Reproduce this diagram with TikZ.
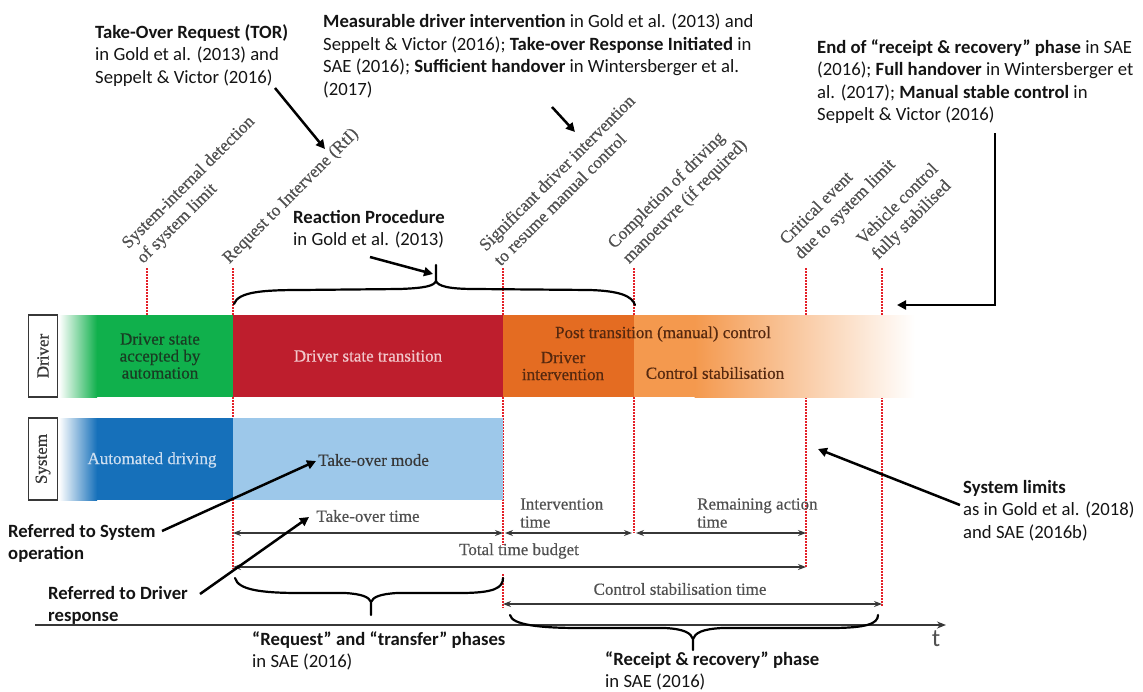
\documentclass[tikz,border=0pt]{standalone}
\usepackage{fontspec}
\setmainfont{Carlito}
\newfontfamily\serif[FakeBold=0.5]{Liberation Serif}
\usetikzlibrary{arrows.meta}
\definecolor{cgreen}{RGB}{16,176,76}
\definecolor{cred}{RGB}{190,30,45}
\definecolor{corange}{RGB}{228,108,34}
\definecolor{clorange}{RGB}{244,153,78}
\definecolor{cblue}{RGB}{22,112,186}
\definecolor{clblue}{RGB}{157,200,234}
\definecolor{cgrey}{RGB}{80,80,80}
\definecolor{cdot}{RGB}{228,32,40}
\definecolor{cbrown}{RGB}{85,40,15}
\definecolor{cdkgreen}{RGB}{25,60,35}
\definecolor{cpink}{RGB}{242,200,204}
\definecolor{cpale}{RGB}{205,222,240}
\definecolor{cdark}{RGB}{55,55,55}
\definecolor{cink}{RGB}{20,20,20}
\begin{document}
\begin{tikzpicture}[x=1pt,y=-1pt,
  ann/.style={font=\fontsize{18.7}{22.5}\selectfont, text=cink, align=left, inner sep=0pt, anchor=north west},
  lbl/.style={font=\serif\fontsize{17}{18}\selectfont, text=cgrey, inner sep=0pt},
  rotlbl/.style={font=\serif\fontsize{17.5}{21}\selectfont, text=cgrey, inner sep=0pt, rotate=45, anchor=south west, align=left},
  barlbl/.style={font=\serif\fontsize{17}{17}\selectfont, inner sep=0pt, align=center},
  tick/.style={draw=cdot, line width=1.6pt, dash pattern=on 1.5pt off 1.5pt},
  callout/.style={draw=black, line width=2.5pt, -{Triangle[length=9pt,width=9pt]}},
  dim/.style={draw=cdark, line width=1.1pt, {Stealth[length=8pt,width=6pt]}-{Stealth[length=8pt,width=6pt]}},
  axisline/.style={draw=cdark, line width=1.3pt, -{Stealth[length=9pt,width=7pt]}},
  brace/.style={draw=black, line width=2.2pt, line cap=round},
  rowbox/.style={draw=cdark, line width=1.2pt, fill=white, inner sep=0pt, rotate=90, minimum width=82pt, minimum height=29pt, font=\serif\fontsize{17}{17}\selectfont, text=cdark}
]
\useasboundingbox (0,0) rectangle (1143,691);

% dotted ticks
\foreach \n/\x/\yb in {a/147/315, b/233/569, d/634/533, e/806/567, f/882/606} {
  \coordinate (\n top) at (\x,268);
  \coordinate (\n bot) at (\x,\yb);
  \draw[tick] (\n top) -- (\n bot);
}
\coordinate (c top) at (503,268); \coordinate (c mid1) at (503,545);
\coordinate (c mid2) at (503,574); \coordinate (c bot) at (503,608);
\draw[tick] (c top) -- (c mid1);
\draw[tick] (c mid2) -- (c bot);

% bars: driver
\fill[left color=white, right color=cgreen] (59,315) rectangle (97,397);
\fill[cgreen] (96.5,315) rectangle (233,397);
\fill[cred] (233,315) rectangle (503,397);
\fill[corange] (503,315) rectangle (634,397);
\fill[clorange] (634,315) rectangle (695,397);
\fill[left color=clorange, right color=white] (694.5,315) rectangle (915,397);
% bars: system
\fill[left color=white, right color=cblue] (59,418) rectangle (97,500);
\fill[cblue] (96.5,418) rectangle (233,500);
\fill[clblue] (233,418) rectangle (503,500);

% row labels
\node[rowbox] (drvlab) at (43,356) {Driver};
\node[rowbox] (syslab) at (43,459) {System};

% bar texts
\node[barlbl, text=cdkgreen] (t1) at (160,356) {Driver state\\accepted by\\automation};
\node[barlbl, text=cpink] (t2) at (368,356) {Driver state transition};
\node[barlbl, text=cbrown] (t3) at (663,334) {Post transition (manual) control};
\node[barlbl, text=cbrown] (t4) at (563,366) {Driver\\intervention};
\node[barlbl, text=cbrown] (t5) at (715,373) {Control stabilisation};
\node[barlbl, text=cpale] (t6) at (152,460) {Automated driving};
\node[barlbl, text=cdark, anchor=west] (tomode) at (318,460) {Take-over mode};

% rotated event labels
\node[rotlbl] (lab1) at (146,267) {System-internal detection\\of system limit};
\node[rotlbl] (lab2) at (232,267) {Request to Intervene (RtI)};
\node[rotlbl] (lab3) at (501,267) {Significant driver intervention\\to resume manual control};
\node[rotlbl] (lab4) at (632,267) {Completion of driving\\manoeuvre (if required)};
\node[rotlbl] (lab5) at (804,263) {Critical event\\due to system limit};
\node[rotlbl] (lab6) at (881,263) {Vehicle control\\fully stabilised};

% dimension arrows
\coordinate (tot1) at (233,533); \coordinate (tot2) at (503,533);
\coordinate (int1) at (503,533); \coordinate (int2) at (634,533);
\coordinate (ram1) at (634,533); \coordinate (ram2) at (806,533);
\coordinate (ttb1) at (233,567); \coordinate (ttb2) at (806,567);
\coordinate (cst1) at (503,604); \coordinate (cst2) at (882,604);
\draw[dim] (tot1) -- (tot2);
\draw[dim] ([xshift=2pt]int1) -- ([xshift=-2pt]int2);
\draw[dim] ([xshift=2pt]ram1) -- (ram2);
\draw[dim] (ttb1) -- (ttb2);
\draw[dim] (cst1) -- (cst2);
\node[lbl] (ltot) at (368,516) {Take-over time};
\node[lbl, align=left, anchor=west] (lint) at (520,513) {Intervention\\time};
\node[lbl, align=left, anchor=west] (lram) at (697,513) {Remaining action\\time};
\node[lbl] (lttb) at (519,551) {Total time budget};
\node[lbl] (lcst) at (680,589) {Control stabilisation time};

% time axis
\coordinate (ax1) at (35,625); \coordinate (ax2) at (946,625);
\draw[axisline] (ax1) -- (ax2);
\node[font=\fontsize{25}{25}\selectfont, text=cgrey, inner sep=0pt] (tlab) at (936,639) {t};

% braces
\draw[brace] (234,304) .. controls (238,292) and (262,290) .. (300,290) -- (400,289) .. controls (425,288) and (434,286) .. (436,281)
  (436,281) .. controls (438,286) and (448,289) .. (475,289) -- (590,290) .. controls (620,291) and (632,296) .. (635,305)
  (436,281) -- (436,265);
\draw[brace] (235,578) .. controls (238,590) and (262,593) .. (300,593) -- (345,593) .. controls (362,594) and (369,597) .. (371,602)
  (371,602) .. controls (373,597) and (380,594) .. (397,593) -- (460,593) .. controls (494,593) and (503,588) .. (503,578)
  (371,602) -- (371,615);
\draw[brace] (510,615) .. controls (512,625) and (540,628) .. (580,628) -- (665,628) .. controls (684,629) and (691,633) .. (693,639)
  (693,639) .. controls (695,633) and (702,629) .. (722,628) -- (830,628) .. controls (866,628) and (878,624) .. (878,615)
  (693,639) -- (693,650);

% annotations
\node[ann] (tor) at (95,24) {\textbf{Take-Over Request (TOR)}\\in Gold et al. (2013) and\\Seppelt \& Victor (2016)};
\node[ann] (meas) at (323,14) {\textbf{Measurable driver intervention} in Gold et al. (2013) and\\Seppelt \& Victor (2016); \textbf{Take-over Response Initiated} in\\SAE (2016); \textbf{Sufficient handover} in Wintersberger et al.\\(2017)};
\node[ann] (endrr) at (817,39) {\textbf{End of “receipt \& recovery” phase} in SAE\\(2016); \textbf{Full handover} in Wintersberger et\\al. (2017); \textbf{Manual stable control} in\\Seppelt \& Victor (2016)};
\node[ann] (react) at (293,210) {\textbf{Reaction Procedure}\\in Gold et al. (2013)};
\node[ann] (refsys) at (8,524) {\textbf{Referred to System}\\\textbf{operation}};
\node[ann] (refdrv) at (48,586) {\textbf{Referred to Driver}\\\textbf{response}};
\node[ann] (syslim) at (963,480) {\textbf{System limits}\\as in Gold et al. (2018)\\and SAE (2016b)};
\node[ann] (reqtr) at (252,631) {\textbf{“Request” and “transfer” phases}\\in SAE (2016)};
\node[ann] (rr) at (605,651) {\textbf{“Receipt \& recovery” phase}\\in SAE (2016)};

% callout arrows
\coordinate (torS) at (275,88); \coordinate (torE) at (325,149);
\coordinate (measS) at (552,107); \coordinate (measE) at (575,132);
\coordinate (endS) at (995,133); \coordinate (endE) at (897,305);
\coordinate (reactS) at (370,257); \coordinate (reactE) at (433,274);
\coordinate (sysS) at (162,531); \coordinate (sysE) at (316,461);
\coordinate (drvS) at (200,594); \coordinate (drvE) at (309,517);
\coordinate (limS) at (960,505); \coordinate (limE) at (818,449);
\draw[callout] (torS) -- (torE);
\draw[callout] (measS) -- (measE);
\draw[callout] (endS) |- (endE);
\draw[callout] (reactS) -- (reactE);
\draw[callout] (sysS) -- (sysE);
\draw[callout] (drvS) -- (drvE);
\draw[callout] (limS) -- (limE);
\end{tikzpicture}
\end{document}
